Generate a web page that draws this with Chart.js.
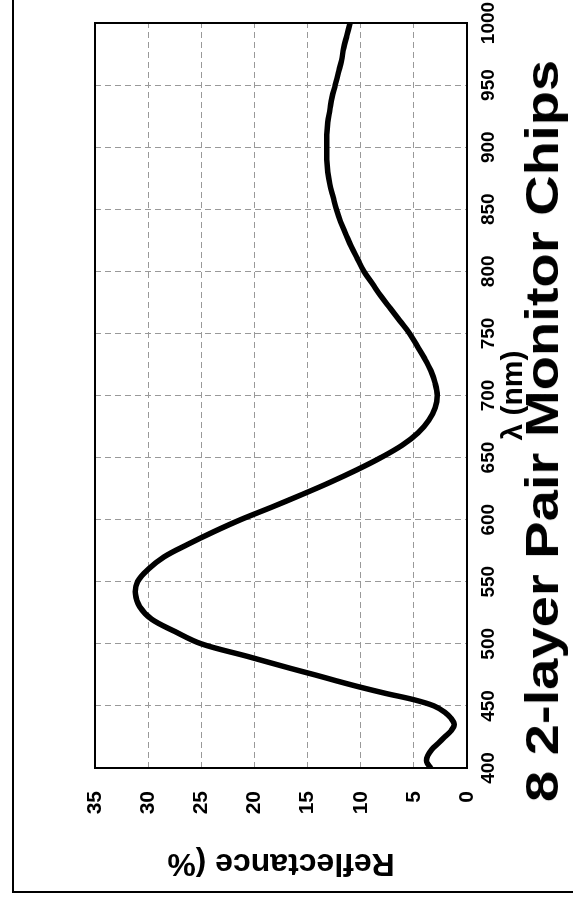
<!DOCTYPE html>
<html lang="en">
<head>
    <meta charset="UTF-8">
    <title>8 2-layer Pair Monitor Chips</title>
    <script src="https://cdn.jsdelivr.net/npm/chart.js"></script>
    <style>
        html, body { margin: 0; padding: 0; background: #fff; overflow: hidden; }
        /* the chart is laid out landscape, then turned a quarter left like the scan */
        #page {
            position: absolute; left: 0; top: 0;
            width: 905px; height: 573px;
            transform-origin: 0 0;
            transform: translateY(905px) rotate(-90deg);
        }
        #frame {
            position: absolute; left: 12px; top: 12px;
            width: 900px; height: 570px;
            border-left: 2px solid #000; border-top: 2px solid #000;
        }
        #chart { position: absolute; left: 0; top: 0; }
        #title {
            position: absolute; left: 474px; top: 519px;
            font: bold 46px/46px "Liberation Sans", Arial, sans-serif;
            white-space: nowrap; color: #000;
            transform: translateX(-50%) scaleX(1.22);
        }
    </style>
</head>
<body>
    <div id="page">
        <div id="frame"></div>
        <canvas id="chart" width="905" height="573"></canvas>
        <div id="title">8 2-layer Pair Monitor Chips</div>
    </div>

    <script>
        // Wavelength (nm) and reflectance (%)
        const wavelengths = [400, 405, 410, 415, 420, 425, 430, 435, 440, 445, 450, 455, 460, 465, 470, 475, 480,
            490, 500, 510, 520, 530, 540, 550, 560, 570, 580, 590, 600, 610, 620, 630, 640, 650, 660, 670, 680,
            690, 700, 710, 720, 730, 740, 750, 760, 770, 780, 790, 800, 810, 820, 830, 840, 850, 860, 870, 880,
            890, 900, 910, 920, 930, 940, 950, 960, 970, 980, 990, 1000];
        const reflectance = [3.4, 3.8, 3.7, 3.3, 2.7, 2.1, 1.5, 1.2, 1.5, 2.1, 3.1, 5.0, 7.6, 10.0, 12.2, 14.3, 16.5,
            20.7, 25.0, 27.5, 29.7, 30.8, 31.2, 31.0, 30.0, 28.5, 26.3, 23.9, 21.3, 18.4, 15.6, 12.9, 10.4, 8.1, 6.1, 4.6, 3.6,
            3.0, 2.8, 3.0, 3.4, 4.0, 4.7, 5.4, 6.3, 7.2, 8.1, 8.9, 9.7, 10.3, 10.9, 11.4, 11.9, 12.3, 12.6, 12.9, 13.1,
            13.2, 13.2, 13.2, 13.1, 12.9, 12.7, 12.4, 12.1, 11.8, 11.6, 11.3, 11.0];
        const wavelengthTicks = [400, 450, 500, 550, 600, 650, 700, 750, 800, 850, 900, 950, 1000];
        const reflectanceTicks = [0, 5, 10, 15, 20, 25, 30, 35];

        const points = wavelengths.map((w, i) => ({ x: w, y: reflectance[i] }));
        const FONT = 'Liberation Sans, Arial, sans-serif';

        // box round the plot area
        const plotBorder = {
            id: 'plotBorder',
            afterDraw(chart) {
                const { ctx, chartArea: a } = chart;
                ctx.save();
                ctx.strokeStyle = '#000';
                ctx.lineWidth = 2;
                ctx.strokeRect(a.left, a.top, a.right - a.left, a.bottom - a.top);
                ctx.restore();
            }
        };

        const ctx = document.getElementById('chart').getContext('2d');
        new Chart(ctx, {
            type: 'line',
            data: {
                datasets: [{
                    label: 'Reflectance',
                    data: points,
                    borderColor: '#000',
                    borderWidth: 5.5,
                    pointRadius: 0,
                    tension: 0.35,
                    fill: false
                }]
            },
            options: {
                responsive: false,
                animation: false,
                layout: { padding: { top: 95, right: 23, bottom: 44, left: 0 } },
                plugins: {
                    legend: { display: false },
                    tooltip: { enabled: false }
                },
                scales: {
                    x: {
                        type: 'linear',
                        min: wavelengthTicks[0],
                        max: wavelengthTicks[wavelengthTicks.length - 1],
                        afterBuildTicks: s => { s.ticks = wavelengthTicks.map(v => ({ value: v })); },
                        afterFit: s => { s.height = 62; s.paddingLeft = 0; s.paddingRight = 0; },
                        ticks: {
                            color: '#000',
                            font: { family: FONT, size: 19, weight: 'bold' },
                            padding: 10,
                            maxRotation: 0,
                            autoSkip: false,
                            callback: v => String(v)
                        },
                        grid: { color: '#999', lineWidth: 1, drawTicks: false },
                        border: { display: false, dash: [6, 4] },
                        title: {
                            display: true,
                            text: 'λ (nm)',
                            color: '#000',
                            font: { family: FONT, size: 30, weight: 'bold', lineHeight: 1 },
                            padding: 0
                        }
                    },
                    y: {
                        type: 'linear',
                        min: reflectanceTicks[0],
                        max: reflectanceTicks[reflectanceTicks.length - 1],
                        afterBuildTicks: s => { s.ticks = reflectanceTicks.map(v => ({ value: v })); },
                        afterFit: s => { s.width = 137; },
                        ticks: {
                            color: '#000',
                            font: { family: FONT, size: 21, weight: 'bold' },
                            padding: 23
                        },
                        grid: { color: '#999', lineWidth: 1, drawTicks: false },
                        border: { display: false, dash: [6, 4] },
                        title: {
                            display: true,
                            text: 'Reflectance (%',
                            color: '#000',
                            font: { family: FONT, size: 32, weight: 'bold', lineHeight: 1 },
                            padding: { top: 26, bottom: 0 }
                        }
                    }
                }
            },
            plugins: [plotBorder]
        });
    </script>
</body>
</html>
